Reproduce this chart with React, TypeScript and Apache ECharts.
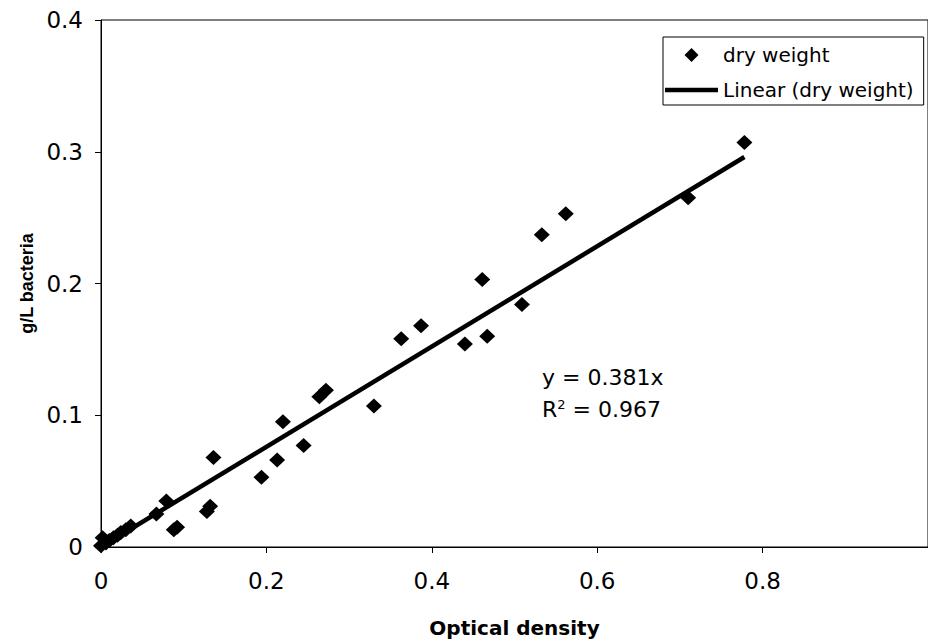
import React, { useEffect, useRef } from "react";
import * as echarts from "echarts";

const opticalDensity = [
  0.0, 0.002, 0.006, 0.01, 0.015, 0.02, 0.024, 0.03, 0.036, 0.067, 0.079, 0.088, 0.092,
  0.128, 0.132, 0.136, 0.194, 0.213, 0.22, 0.245, 0.264, 0.272, 0.33, 0.363, 0.387,
  0.44, 0.461, 0.467, 0.509, 0.533, 0.562, 0.71, 0.778,
];
const dryWeight = [
  0.001, 0.007, 0.003, 0.005, 0.007, 0.009, 0.011, 0.013, 0.016, 0.025, 0.035, 0.013, 0.015,
  0.027, 0.031, 0.068, 0.053, 0.066, 0.095, 0.077, 0.114, 0.119, 0.107, 0.158, 0.168,
  0.154, 0.203, 0.16, 0.184, 0.237, 0.253, 0.265, 0.307,
];
const trendX = [0, 0.778];
const trendY = [0, 0.296];
const seriesNames = ["dry weight", "Linear (dry weight)"];
const equationText = "y = 0.381x";
const r2Text = "0.967";

export default function App() {
  const ref = useRef<HTMLDivElement>(null);
  useEffect(() => {
    if (!ref.current) return;
    const chart = echarts.init(ref.current, null, { renderer: "svg" });
    const labelFont = "DejaVu Sans";
    chart.setOption({
      animation: false,
      backgroundColor: "#fff",
      grid: {
        show: true,
        left: 101,
        top: 20,
        width: 832,
        height: 531,
        borderColor: "#000",
        borderWidth: 1,
        containLabel: false,
      },
      legend: {
        orient: "vertical",
        left: 663,
        top: 37,
        padding: [8, 10, 5, 2],
        itemGap: 15,
        itemWidth: 53,
        itemHeight: 14,
        symbolKeepAspect: true,
        borderColor: "#000",
        borderWidth: 1,
        textStyle: { fontFamily: labelFont, fontSize: 20, color: "#000" },
        data: [
          { name: seriesNames[0], icon: "path://M7,0L14,7L7,14L0,7Z", itemStyle: { color: "#000", opacity: 1 } },
          { name: seriesNames[1], icon: "path://M0,0H53V4.5H0Z", itemStyle: { color: "#000", opacity: 1 } },
        ],
      },
      xAxis: {
        type: "value",
        min: 0,
        max: 1,
        interval: 0.2,
        name: "Optical density",
        nameLocation: "middle",
        nameGap: 71,
        nameTextStyle: { fontFamily: labelFont, fontWeight: "bold", fontSize: 20, color: "#000" },
        splitLine: { show: false },
        axisLine: { lineStyle: { color: "#000", width: 1 } },
        axisTick: { length: 6, lineStyle: { color: "#000" } },
        axisLabel: {
          margin: 22,
          showMaxLabel: false,
          fontFamily: labelFont,
          fontSize: 23,
          color: "#000",
        },
      },
      yAxis: {
        type: "value",
        min: 0,
        max: 0.4,
        interval: 0.1,
        name: "g/L bacteria",
        nameLocation: "middle",
        nameRotate: 90,
        nameGap: 58,
        nameTextStyle: { fontFamily: "Liberation Sans", fontWeight: "bold", fontSize: 18, color: "#000" },
        splitLine: { show: false },
        axisLine: { show: true, lineStyle: { color: "#000", width: 1 } },
        axisTick: { show: true, length: 6, lineStyle: { color: "#000" } },
        axisLabel: { margin: 18, fontFamily: labelFont, fontSize: 23, color: "#000" },
      },
      graphic: [
        {
          type: "text",
          left: 542,
          top: 366,
          style: { text: equationText, font: `22px ${labelFont}`, fill: "#000" },
        },
        {
          type: "text",
          left: 542,
          top: 398,
          style: {
            text: "R{sup|2} = " + r2Text,
            font: `22px ${labelFont}`,
            fill: "#000",
            rich: {
              sup: { fontFamily: labelFont, fontSize: 13, verticalAlign: "top", padding: [0, 0, 10, 0] },
            },
          },
        },
      ],
      series: [
        {
          name: seriesNames[0],
          type: "scatter",
          symbol: "diamond",
          symbolSize: [16, 15],
          itemStyle: { color: "#000", opacity: 1 },
          data: opticalDensity.map((x, i) => [x, dryWeight[i]]),
          z: 3,
        },
        {
          name: seriesNames[1],
          type: "line",
          symbol: "none",
          lineStyle: { color: "#000", width: 4.5 },
          itemStyle: { color: "#000" },
          data: trendX.map((x, i) => [x, trendY[i]]),
          z: 2,
        },
      ],
    });
    return () => chart.dispose();
  }, []);
  return (
    <div
      ref={ref}
      style={{ position: "fixed", left: 0, top: 0, width: 928, height: 643, background: "#fff" }}
    />
  );
}
